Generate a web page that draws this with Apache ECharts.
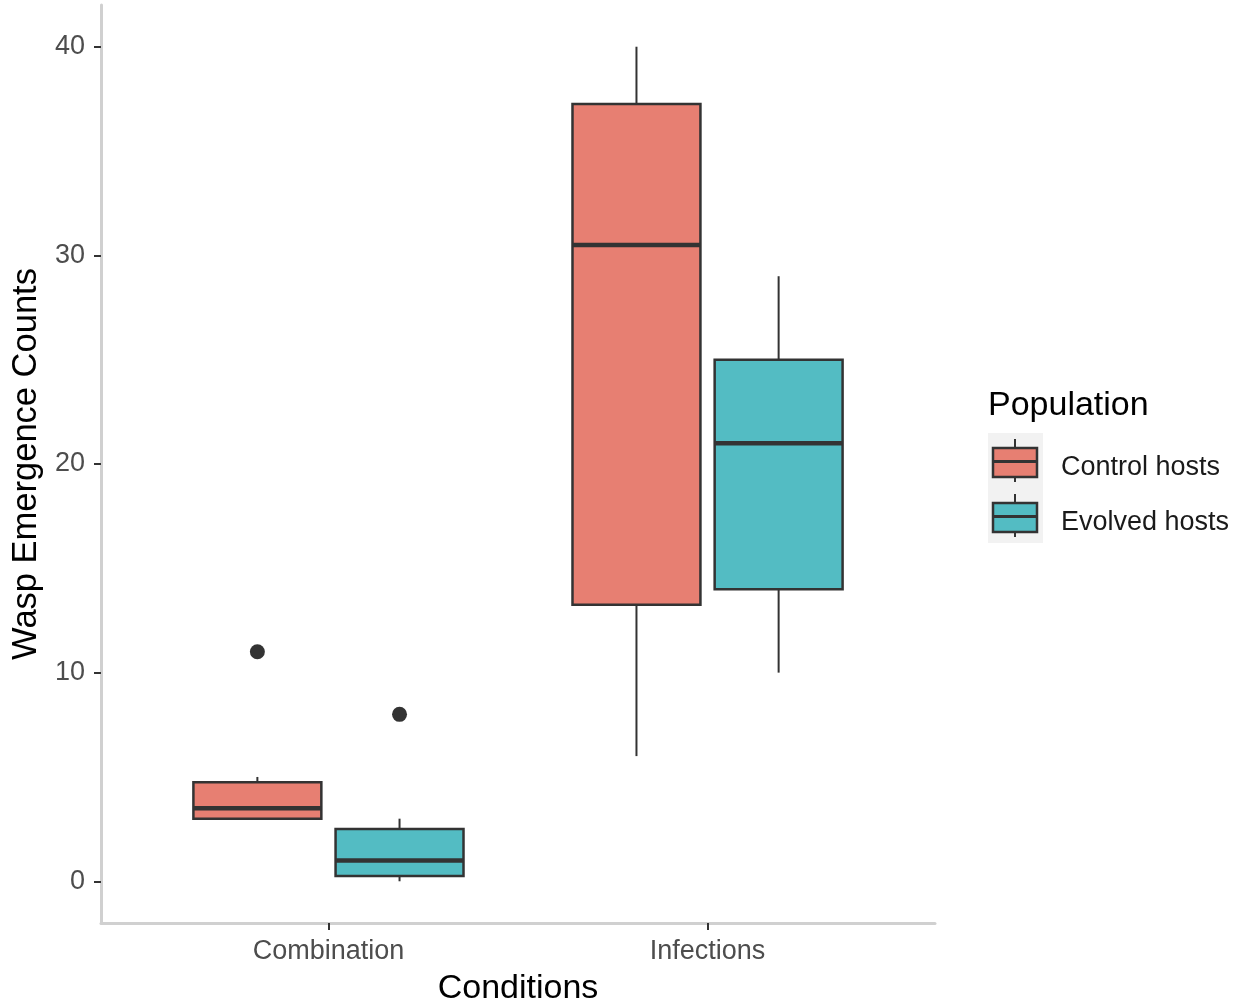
<!DOCTYPE html>
<html>
<head>
<meta charset="utf-8">
<script src="https://cdn.jsdelivr.net/npm/echarts@6/dist/echarts.min.js"></script>
<style>
  html, body { margin: 0; padding: 0; background: #ffffff; }
  #chart { width: 1242px; height: 1003px; }
</style>
</head>
<body>
<div id="chart"></div>
<script>
const conditions = ['Combination', 'Infections'];
const populations = ['Control hosts', 'Evolved hosts'];
const yTicks = [0, 10, 20, 30, 40];
// five-number summaries per condition: [lower whisker, Q1, median, Q3, upper whisker]
const controlStats = [[3, 3, 3.5, 4.75, 5], [6, 13.25, 30.5, 37.25, 40]];
const evolvedStats = [[0, 0.25, 1, 2.5, 3], [10, 14, 21, 25, 29]];
// points beyond the whiskers: [condition index, value]
const controlOutliers = [[0, 11]];
const evolvedOutliers = [[0, 8]];

const FONT = '"Liberation Sans", Arial, sans-serif';
const fills = ['#E77F72', '#53BCC3'];
const INK = '#333333';
const DODGE = 0.1875;      // half of the dodge width, in category units
const BOX_W = 0.3375;      // box width, in category units

function boxRenderer(offset, color) {
  return function (params, api) {
    const x = api.value(0) + 1 + offset;
    const lo = api.coord([x, api.value(1)]);
    const q1 = api.coord([x, api.value(2)]);
    const med = api.coord([x, api.value(3)]);
    const q3 = api.coord([x, api.value(4)]);
    const hi = api.coord([x, api.value(5)]);
    const half = api.size([BOX_W, 0])[0] / 2;
    const cx = lo[0];
    const lineStyle = { stroke: INK, lineWidth: 2 };
    return {
      type: 'group',
      children: [
        { type: 'line', shape: { x1: cx, y1: q3[1], x2: cx, y2: hi[1] }, style: lineStyle },
        { type: 'line', shape: { x1: cx, y1: q1[1], x2: cx, y2: lo[1] }, style: lineStyle },
        { type: 'rect', shape: { x: cx - half, y: q3[1], width: 2 * half, height: q1[1] - q3[1] },
          style: { fill: color, stroke: INK, lineWidth: 2.5 } },
        { type: 'line', shape: { x1: cx - half, y1: med[1], x2: cx + half, y2: med[1] },
          style: { stroke: INK, lineWidth: 4.5 } }
      ]
    };
  };
}

function boxSeries(name, stats, offset, color) {
  return {
    name: name,
    type: 'custom',
    renderItem: boxRenderer(offset, color),
    encode: { x: 0, y: [1, 2, 3, 4, 5] },
    data: stats.map((s, i) => [i].concat(s)),
    silent: true
  };
}

function outlierSeries(name, pts, offset) {
  return {
    name: name + ' outliers',
    type: 'scatter',
    symbol: 'circle',
    symbolSize: 15,
    itemStyle: { color: INK, opacity: 1 },
    data: pts.map(p => [p[0] + 1 + offset, p[1]]),
    silent: true
  };
}

// legend: title, grey key panel, miniature box glyphs and labels
const legendX = 988, keyTop = 433, keyH = 55, keyW = 55;
const legendGraphics = [
  { type: 'text', left: legendX, top: 389,
    style: { text: 'Population', font: '34px ' + FONT, fill: '#000' } },
  { type: 'rect', shape: { x: legendX, y: keyTop, width: keyW, height: keyH * populations.length },
    style: { fill: '#F2F2F2' } }
];
populations.forEach((name, i) => {
  const top = keyTop + i * keyH;
  const cx = legendX + 27;
  legendGraphics.push(
    { type: 'line', shape: { x1: cx, y1: top + 6, x2: cx, y2: top + 49 }, style: { stroke: INK, lineWidth: 2 } },
    { type: 'rect', shape: { x: legendX + 5, y: top + 15, width: 44, height: 29 },
      style: { fill: fills[i], stroke: INK, lineWidth: 2.5 } },
    { type: 'line', shape: { x1: legendX + 5, y1: top + 28.5, x2: legendX + 49, y2: top + 28.5 },
      style: { stroke: INK, lineWidth: 3 } },
    { type: 'text', x: 1061, y: top + 35,
      style: { text: name, font: '27px ' + FONT, fill: '#1a1a1a', textVerticalAlign: 'middle' } }
  );
});

const chart = echarts.init(document.getElementById('chart'), null, { renderer: 'canvas' });
chart.setOption({
  backgroundColor: '#ffffff',
  animation: false,
  grid: { left: 101, right: 307, top: 5, bottom: 80, containLabel: false, outerBoundsMode: 'none' },
  xAxis: {
    type: 'value',
    min: 0.4,
    max: 2.6,
    name: 'Conditions',
    nameLocation: 'middle',
    nameGap: 49,
    nameTextStyle: { fontFamily: FONT, fontSize: 34, color: '#000' },
    axisLine: { onZero: false, lineStyle: { color: '#D0D0D0', width: 3 } },
    axisTick: { customValues: [1, 2], length: 7, lineStyle: { color: INK, width: 2 } },
    axisLabel: {
      customValues: [1, 2],
      formatter: v => conditions[Math.round(v) - 1],
      fontFamily: FONT, fontSize: 27, color: '#4D4D4D', margin: 15
    },
    splitLine: { show: false }
  },
  yAxis: {
    type: 'value',
    min: -2,
    max: 42,
    name: 'Wasp Emergence Counts',
    nameLocation: 'middle',
    nameGap: 52,
    nameTextStyle: { fontFamily: FONT, fontSize: 34.5, color: '#000' },
    axisLine: { show: true, onZero: false, lineStyle: { color: '#D0D0D0', width: 3 } },
    axisTick: { show: true, customValues: yTicks, length: 7, lineStyle: { color: INK, width: 2 } },
    axisLabel: {
      customValues: yTicks,
      fontFamily: FONT, fontSize: 27, color: '#4D4D4D', margin: 16
    },
    splitLine: { show: false }
  },
  series: [
    boxSeries(populations[0], controlStats, -DODGE, fills[0]),
    boxSeries(populations[1], evolvedStats, DODGE, fills[1]),
    outlierSeries(populations[0], controlOutliers, -DODGE),
    outlierSeries(populations[1], evolvedOutliers, DODGE)
  ],
  graphic: legendGraphics
});
</script>
</body>
</html>
